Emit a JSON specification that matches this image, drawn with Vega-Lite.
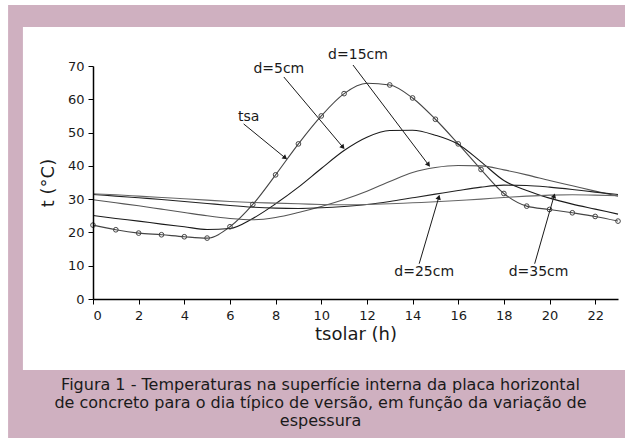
{
  "$schema": "https://vega.github.io/schema/vega-lite/v6.json",
  "width": 525,
  "height": 233,
  "autosize": {"type": "none"},
  "padding": {"left": 93, "top": 66, "right": 7, "bottom": 139},
  "background": "white",
  "config": {
    "view": {"stroke": null},
    "font": "DejaVu Sans",
    "axis": {"grid": false, "domainColor": "black", "domainWidth": 1.5, "tickColor": "black", "tickSize": 5, "labelOverlap": false,
      "labelFontSize": 13, "labelColor": "#1a1a1a", "labelFont": "DejaVu Sans",
      "titleFontSize": 18, "titleFontWeight": "normal", "titleColor": "#1a1a1a", "titleFont": "DejaVu Sans"}
  },
  "title": {
    "text": ["Figura 1 - Temperaturas na superfície interna da placa horizontal", "de concreto para o dia típico de versão, em função da variação de", "espessura"],
    "orient": "bottom",
    "anchor": "middle",
    "frame": "group",
    "fontSize": 16,
    "fontWeight": "normal",
    "font": "DejaVu Sans",
    "color": "#1a1a1a",
    "lineHeight": 18,
    "offset": -61,
    "dx": -35
  },
  "datasets": {
    "curves": [
      {"h": 0, "t": 22.2, "s": "tsa"}, {"h": 1, "t": 20.8, "s": "tsa"}, {"h": 2, "t": 19.8, "s": "tsa"}, {"h": 3, "t": 19.3, "s": "tsa"}, {"h": 4, "t": 18.7, "s": "tsa"}, {"h": 5, "t": 18.3, "s": "tsa"}, {"h": 6, "t": 21.7, "s": "tsa"}, {"h": 7, "t": 28.4, "s": "tsa"}, {"h": 8, "t": 37.3, "s": "tsa"}, {"h": 9, "t": 46.6, "s": "tsa"}, {"h": 10, "t": 55.0, "s": "tsa"}, {"h": 11, "t": 61.7, "s": "tsa"}, {"h": 12, "t": 64.8, "s": "tsa"}, {"h": 13, "t": 64.3, "s": "tsa"}, {"h": 14, "t": 60.4, "s": "tsa"}, {"h": 15, "t": 54.0, "s": "tsa"}, {"h": 16, "t": 46.6, "s": "tsa"}, {"h": 17, "t": 38.9, "s": "tsa"}, {"h": 18, "t": 31.7, "s": "tsa"}, {"h": 19, "t": 27.9, "s": "tsa"}, {"h": 20, "t": 26.9, "s": "tsa"}, {"h": 21, "t": 25.9, "s": "tsa"}, {"h": 22, "t": 24.8, "s": "tsa"}, {"h": 23, "t": 23.4, "s": "tsa"},
      {"h": 0, "t": 25.1, "s": "d5"}, {"h": 1, "t": 24.2, "s": "d5"}, {"h": 2, "t": 23.4, "s": "d5"}, {"h": 3, "t": 22.5, "s": "d5"}, {"h": 4, "t": 21.7, "s": "d5"}, {"h": 5, "t": 20.9, "s": "d5"}, {"h": 6, "t": 21.2, "s": "d5"}, {"h": 7, "t": 24.2, "s": "d5"}, {"h": 8, "t": 28.6, "s": "d5"}, {"h": 9, "t": 33.6, "s": "d5"}, {"h": 10, "t": 39.2, "s": "d5"}, {"h": 11, "t": 44.6, "s": "d5"}, {"h": 12, "t": 48.6, "s": "d5"}, {"h": 13, "t": 50.6, "s": "d5"}, {"h": 14, "t": 50.7, "s": "d5"}, {"h": 15, "t": 49.2, "s": "d5"}, {"h": 16, "t": 46.5, "s": "d5"}, {"h": 17, "t": 41.2, "s": "d5"}, {"h": 18, "t": 35.6, "s": "d5"}, {"h": 19, "t": 32.6, "s": "d5"}, {"h": 20, "t": 30.3, "s": "d5"}, {"h": 21, "t": 28.5, "s": "d5"}, {"h": 22, "t": 27.0, "s": "d5"}, {"h": 23, "t": 25.5, "s": "d5"},
      {"h": 0, "t": 29.8, "s": "d15"}, {"h": 1, "t": 28.9, "s": "d15"}, {"h": 2, "t": 28.0, "s": "d15"}, {"h": 3, "t": 27.0, "s": "d15"}, {"h": 4, "t": 26.0, "s": "d15"}, {"h": 5, "t": 25.0, "s": "d15"}, {"h": 6, "t": 24.2, "s": "d15"}, {"h": 7, "t": 23.8, "s": "d15"}, {"h": 8, "t": 24.5, "s": "d15"}, {"h": 9, "t": 26.0, "s": "d15"}, {"h": 10, "t": 27.8, "s": "d15"}, {"h": 11, "t": 29.9, "s": "d15"}, {"h": 12, "t": 32.4, "s": "d15"}, {"h": 13, "t": 35.3, "s": "d15"}, {"h": 14, "t": 38.0, "s": "d15"}, {"h": 15, "t": 39.5, "s": "d15"}, {"h": 16, "t": 40.1, "s": "d15"}, {"h": 17, "t": 40.0, "s": "d15"}, {"h": 18, "t": 38.8, "s": "d15"}, {"h": 19, "t": 37.3, "s": "d15"}, {"h": 20, "t": 35.6, "s": "d15"}, {"h": 21, "t": 34.0, "s": "d15"}, {"h": 22, "t": 32.4, "s": "d15"}, {"h": 23, "t": 30.9, "s": "d15"},
      {"h": 0, "t": 31.4, "s": "d25"}, {"h": 1, "t": 30.9, "s": "d25"}, {"h": 2, "t": 30.4, "s": "d25"}, {"h": 3, "t": 29.9, "s": "d25"}, {"h": 4, "t": 29.3, "s": "d25"}, {"h": 5, "t": 28.7, "s": "d25"}, {"h": 6, "t": 28.1, "s": "d25"}, {"h": 7, "t": 27.6, "s": "d25"}, {"h": 8, "t": 27.3, "s": "d25"}, {"h": 9, "t": 27.2, "s": "d25"}, {"h": 10, "t": 27.4, "s": "d25"}, {"h": 11, "t": 27.8, "s": "d25"}, {"h": 12, "t": 28.4, "s": "d25"}, {"h": 13, "t": 29.3, "s": "d25"}, {"h": 14, "t": 30.4, "s": "d25"}, {"h": 15, "t": 31.5, "s": "d25"}, {"h": 16, "t": 32.6, "s": "d25"}, {"h": 17, "t": 33.6, "s": "d25"}, {"h": 18, "t": 34.2, "s": "d25"}, {"h": 19, "t": 34.1, "s": "d25"}, {"h": 20, "t": 33.6, "s": "d25"}, {"h": 21, "t": 32.9, "s": "d25"}, {"h": 22, "t": 32.1, "s": "d25"}, {"h": 23, "t": 31.4, "s": "d25"},
      {"h": 0, "t": 31.6, "s": "d35"}, {"h": 1, "t": 31.3, "s": "d35"}, {"h": 2, "t": 30.9, "s": "d35"}, {"h": 3, "t": 30.5, "s": "d35"}, {"h": 4, "t": 30.1, "s": "d35"}, {"h": 5, "t": 29.7, "s": "d35"}, {"h": 6, "t": 29.3, "s": "d35"}, {"h": 7, "t": 29.0, "s": "d35"}, {"h": 8, "t": 28.8, "s": "d35"}, {"h": 9, "t": 28.6, "s": "d35"}, {"h": 10, "t": 28.4, "s": "d35"}, {"h": 11, "t": 28.3, "s": "d35"}, {"h": 12, "t": 28.4, "s": "d35"}, {"h": 13, "t": 28.6, "s": "d35"}, {"h": 14, "t": 28.9, "s": "d35"}, {"h": 15, "t": 29.2, "s": "d35"}, {"h": 16, "t": 29.6, "s": "d35"}, {"h": 17, "t": 30.0, "s": "d35"}, {"h": 18, "t": 30.5, "s": "d35"}, {"h": 19, "t": 30.9, "s": "d35"}, {"h": 20, "t": 31.2, "s": "d35"}, {"h": 21, "t": 31.3, "s": "d35"}, {"h": 22, "t": 31.2, "s": "d35"}, {"h": 23, "t": 31.0, "s": "d35"}
    ],
    "notes": [
      {"label": "tsa", "lx": 6.82, "ly": 54.6, "x1": 6.6, "y1": 52.6, "x2": 8.42, "y2": 42.4},
      {"label": "d=5cm", "lx": 8.14, "ly": 69.1, "x1": 8.36, "y1": 66.7, "x2": 10.95, "y2": 45.6},
      {"label": "d=15cm", "lx": 11.61, "ly": 73.3, "x1": 11.39, "y1": 70.3, "x2": 14.7, "y2": 40.3},
      {"label": "d=25cm", "lx": 14.51, "ly": 8.1, "x1": 14.29, "y1": 10.6, "x2": 15.15, "y2": 30.6},
      {"label": "d=35cm", "lx": 19.52, "ly": 8.1, "x1": 19.35, "y1": 10.6, "x2": 20.2, "y2": 31.0}
    ]
  },
  "encoding": {
    "x": {"type": "quantitative", "title": "tsolar (h)",
      "scale": {"domain": [0, 23], "nice": false, "zero": false},
      "axis": {"values": [0,1,2,3,4,5,6,7,8,9,10,11,12,13,14,15,16,17,18,19,20,21,22,23], "tickCount": 23,
        "labelExpr": "datum.value % 2 == 0 ? datum.label : ''", "labelOverlap": false, "labelPadding": 5, "titlePadding": 3, "zindex": 1}},
    "y": {"type": "quantitative", "title": "t (°C)",
      "scale": {"domain": [0, 70], "nice": false},
      "axis": {"values": [0,10,20,30,40,50,60,70], "tickCount": 8, "labelOverlap": false, "labelPadding": 4, "titlePadding": 10, "zindex": 1}}
  },
  "layer": [
    {
      "data": {"values": [{"k": "outer"}]},
      "mark": {"type": "rect", "color": "#cfb0c0", "clip": false},
      "encoding": {
        "x": {"datum": -3.72, "type": "quantitative"},
        "x2": {"datum": 24.5},
        "y": {"datum": 88.3, "type": "quantitative"},
        "y2": {"datum": -41.75}
      }
    },
    {
      "data": {"values": [{"k": "inner"}]},
      "mark": {"type": "rect", "color": "white", "clip": false},
      "encoding": {
        "x": {"datum": -3.07, "type": "quantitative"},
        "x2": {"datum": 24.5},
        "y": {"datum": 81.7, "type": "quantitative"},
        "y2": {"datum": -21.3}
      }
    },
    {
      "data": {"name": "curves"},
      "mark": {"type": "line", "interpolate": "monotone", "strokeWidth": 1.1, "clip": false},
      "encoding": {
        "x": {"field": "h", "type": "quantitative"},
        "y": {"field": "t", "type": "quantitative"},
        "detail": {"field": "s"},
        "color": {"field": "s", "type": "nominal", "legend": null,
          "scale": {"domain": ["tsa", "d5", "d15", "d25", "d35"], "range": ["#444444", "#1a1a1a", "#555555", "#222222", "#666666"]}}
      }
    },
    {
      "data": {"name": "curves"},
      "transform": [{"filter": "datum.s == 'tsa' && datum.h != 12"}],
      "mark": {"type": "point", "shape": "circle", "filled": false, "size": 22, "stroke": "#444444", "strokeWidth": 1, "opacity": 1},
      "encoding": {
        "x": {"field": "h", "type": "quantitative"},
        "y": {"field": "t", "type": "quantitative"}
      }
    },
    {
      "data": {"name": "notes"},
      "mark": {"type": "rule", "color": "#1a1a1a", "strokeWidth": 1, "clip": false},
      "encoding": {
        "x": {"field": "x1", "type": "quantitative"},
        "y": {"field": "y1", "type": "quantitative"},
        "x2": {"field": "x2"},
        "y2": {"field": "y2"}
      }
    },
    {
      "data": {"name": "notes"},
      "transform": [{"calculate": "atan2((datum.x2 - datum.x1) * 22.83, (datum.y2 - datum.y1) * 3.33) * 180 / PI", "as": "ang"}],
      "mark": {"type": "point", "shape": "triangle-up", "filled": true, "size": 30, "color": "#1a1a1a", "opacity": 1, "clip": false},
      "encoding": {
        "x": {"field": "x2", "type": "quantitative"},
        "y": {"field": "y2", "type": "quantitative"},
        "angle": {"field": "ang", "type": "quantitative", "scale": null}
      }
    },
    {
      "data": {"name": "notes"},
      "mark": {"type": "text", "fontSize": 14, "font": "DejaVu Sans", "color": "#1a1a1a", "align": "center", "baseline": "middle", "clip": false},
      "encoding": {
        "x": {"field": "lx", "type": "quantitative"},
        "y": {"field": "ly", "type": "quantitative"},
        "text": {"field": "label"}
      }
    }
  ]
}
